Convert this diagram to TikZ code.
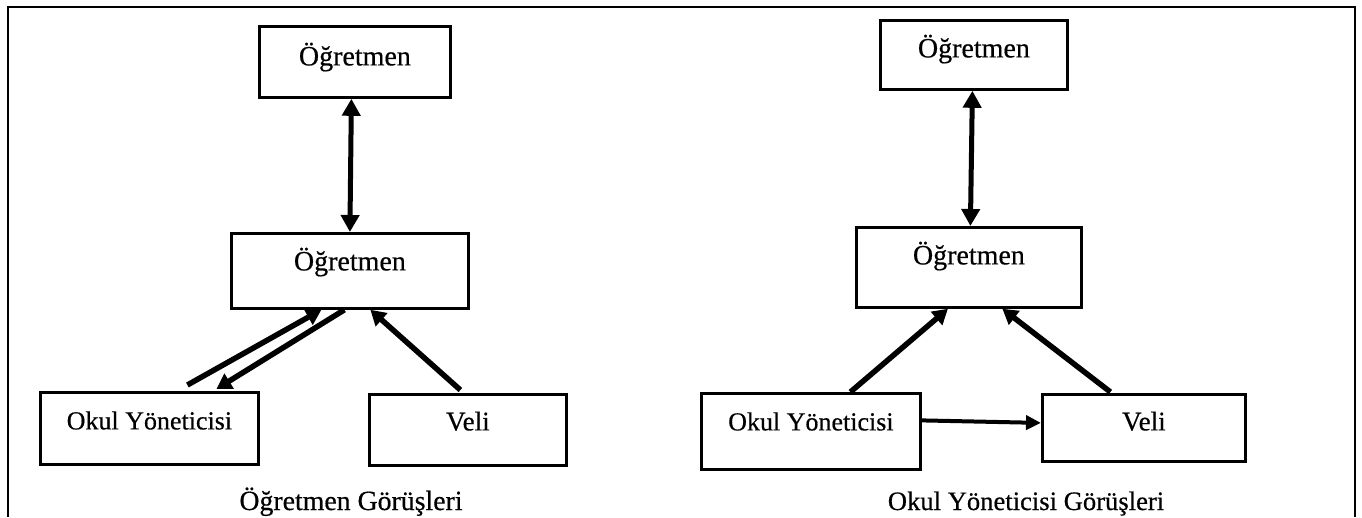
\documentclass[tikz,border=0pt]{standalone}
\usepackage{fontspec}
\setmainfont{Liberation Serif}[FakeBold=0.5]
\usetikzlibrary{arrows.meta}
\newcommand{\tfont}{\fontsize{27}{30}\selectfont}
\newcommand{\ofont}{\fontsize{26}{30}\selectfont}
\newcommand{\gfont}{\fontsize{28}{30}\selectfont}
\tikzset{
  box/.style={draw, line width=2.8pt, inner sep=0pt, anchor=north west, font=\tfont},
  arr/.style={line width=5.5pt, -{Triangle[length=15pt,width=17pt]}},
  harr/.style={line width=4pt, -{Triangle[length=15pt,width=14pt]}},
  dbl/.style={line width=5pt, {Triangle[length=17pt,width=18pt]}-{Triangle[length=17pt,width=18pt]}},
  captxt/.style={anchor=base, inner sep=0pt}
}
\begin{document}
\begin{tikzpicture}[x=1pt,y=-1pt]
\useasboundingbox (0,0) rectangle (1362,517);
% frame (open at bottom)
\draw[line width=2.6pt] (8,517) -- (8,7) -- (1355,7) -- (1355,517);

% left diagram
\node[box, font=\gfont, minimum width=191pt, text height=39pt, text depth=32pt] (LT) at (258,25) {Öğretmen};
\node[box, font=\gfont, minimum width=237pt, text height=37pt, text depth=38pt] (LM) at (230,232) {Öğretmen};
\node[box, font=\ofont, minimum width=218pt, text height=37pt, text depth=35pt] (LO) at (39,391) {Okul Yöneticisi};
\node[box, minimum width=197pt, text height=36pt, text depth=35pt] (LV) at (368,393) {Veli};
\node[captxt, font=\fontsize{27.8}{30}\selectfont] (LC) at (351,510) {Öğretmen Görüşleri};

\draw[dbl] ([xshift=-3.5pt]LT.south) -- (LM.north);
\draw[arr] ([xshift=38pt,yshift=6pt]LO.north) -- ([xshift=-28.5pt]LM.south);
\draw[arr] ([xshift=-5.5pt]LM.south) -- ([xshift=67pt,yshift=2pt]LO.north);
\draw[arr] ([xshift=-7.5pt,yshift=3pt]LV.north) -- ([xshift=20.5pt]LM.south);

% right diagram
\node[box, font=\gfont, minimum width=187pt, text height=37pt, text depth=32pt] (RT) at (879,19) {Öğretmen};
\node[box, font=\gfont, minimum width=225pt, text height=37pt, text depth=43pt] (RM) at (855,226) {Öğretmen};
\node[box, font=\ofont, minimum width=219pt, text height=37pt, text depth=39pt] (RO) at (700,392) {Okul Yöneticisi};
\node[box, minimum width=203pt, text height=36pt, text depth=31pt] (RV) at (1041,393) {Veli};
\node[captxt, font=\fontsize{26.6}{30}\selectfont] (RC) at (1026,510) {Okul Yöneticisi Görüşleri};

\draw[dbl] ([xshift=-1.5pt]RT.south) -- ([xshift=1.5pt]RM.north);
\draw[arr] ([xshift=39.5pt]RO.north) -- ([xshift=-21pt]RM.south);
\draw[arr] ([xshift=-33.5pt,yshift=1pt]RV.north) -- ([xshift=33.5pt]RM.south);
\draw[harr] ([yshift=11pt]RO.east) -- ([yshift=5pt]RV.west);
\end{tikzpicture}
\end{document}
